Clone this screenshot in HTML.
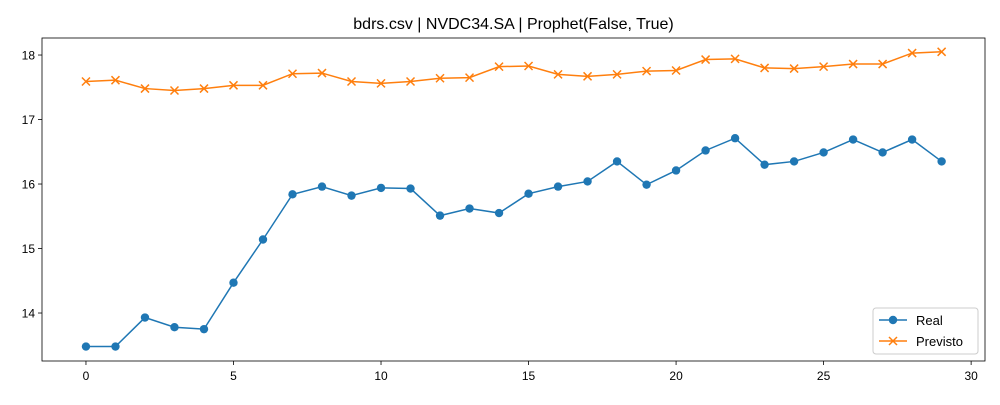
<!DOCTYPE html>
<html><head><meta charset="utf-8"><style>
body{margin:0;background:#fff;}
svg text{font-family:"Liberation Sans","DejaVu Sans",sans-serif;}
</style></head><body>
<svg id="chart" width="1000" height="400"></svg>
<script>
const xValues=[0,1,2,3,4,5,6,7,8,9,10,11,12,13,14,15,16,17,18,19,20,21,22,23,24,25,26,27,28,29];
const realValues=[13.48,13.48,13.93,13.78,13.75,14.47,15.14,15.84,15.96,15.82,15.94,15.93,15.51,15.62,15.55,15.85,15.96,16.04,16.35,15.99,16.21,16.52,16.71,16.30,16.35,16.49,16.69,16.49,16.69,16.35];
const previstoValues=[17.59,17.61,17.48,17.45,17.48,17.53,17.53,17.71,17.72,17.59,17.56,17.59,17.64,17.65,17.82,17.83,17.70,17.67,17.70,17.75,17.76,17.93,17.94,17.80,17.79,17.82,17.86,17.86,18.03,18.05];
const xTicks=[0,5,10,15,20,25,30];
const yTicks=[14,15,16,17,18];
const titleText="bdrs.csv | NVDC34.SA | Prophet(False, True)";

const NS="http://www.w3.org/2000/svg";
const svg=document.getElementById('chart');
const L=42,R=985,T=38,B=361;
const xMin=-1.49,xMax=30.47,yMin=13.256,yMax=18.264;
const sx=v=>L+(v-xMin)/(xMax-xMin)*(R-L);
const sy=v=>B-(v-yMin)/(yMax-yMin)*(B-T);
function mk(tag,attrs,parent){const e=document.createElementNS(NS,tag);for(const k in attrs)e.setAttribute(k,attrs[k]);(parent||svg).appendChild(e);return e;}

const title=mk('text',{x:(L+R)/2,y:29,'text-anchor':'middle','font-size':16,fill:'#000'});
title.textContent=titleText;



const xg=mk('g',{});


xTicks.forEach(t=>{
  const x=sx(t);
  mk('line',{x1:x,x2:x,y1:B,y2:B+4,stroke:'#000','stroke-width':0.8},xg);
  const tx=mk('text',{x:x,y:B+19,'text-anchor':'middle','font-size':12,fill:'#000'},xg);
  tx.textContent=t;
  
  
});
const yg=mk('g',{});


yTicks.forEach(t=>{
  const y=sy(t);
  mk('line',{x1:L-4,x2:L,y1:y,y2:y,stroke:'#000','stroke-width':0.8},yg);
  const tx=mk('text',{x:L-7,y:y+4.5,'text-anchor':'end','font-size':12,fill:'#000'},yg);
  tx.textContent=t;
  
  
});

function series(vals,color,marker,name){
  const g=mk('g',{});
  
  
  mk('polyline',{points:vals.map((v,i)=>sx(xValues[i])+','+sy(v)).join(' '),fill:'none',stroke:color,'stroke-width':1.5},g);
  vals.forEach((v,i)=>{
    const x=sx(xValues[i]),y=sy(v);
    let m;
    if(marker==='o') m=mk('circle',{cx:x,cy:y,r:4.2,fill:color},g);
    else m=mk('path',{d:`M${x-4},${y-4}L${x+4},${y+4}M${x-4},${y+4}L${x+4},${y-4}`,stroke:color,'stroke-width':1.5},g);
    
    
  });
}
series(realValues,'#1f77b4','o','real-series');
series(previstoValues,'#ff7f0e','x','previsto-series');

const frame=mk('rect',{x:L,y:T,width:R-L,height:B-T,fill:'none',stroke:'#000','stroke-width':0.8});



const lg=mk('g',{});


mk('rect',{x:873,y:308,width:105,height:46,rx:3,fill:'#fff',stroke:'#ccc','stroke-width':1},lg);
const e1=mk('g',{},lg);


mk('line',{x1:879,x2:907,y1:320,y2:320,stroke:'#1f77b4','stroke-width':1.5},e1);
mk('circle',{cx:893,cy:320,r:4.2,fill:'#1f77b4'},e1);
const t1=mk('text',{x:916,y:325,'font-size':13,fill:'#000'},e1);t1.textContent='Real';
const e2=mk('g',{},lg);


mk('line',{x1:879,x2:907,y1:341,y2:341,stroke:'#ff7f0e','stroke-width':1.5},e2);
mk('path',{d:'M889,337L897,345M889,345L897,337',stroke:'#ff7f0e','stroke-width':1.5},e2);
const t2=mk('text',{x:916,y:346,'font-size':13,fill:'#000'},e2);t2.textContent='Previsto';
</script>
</body></html>
